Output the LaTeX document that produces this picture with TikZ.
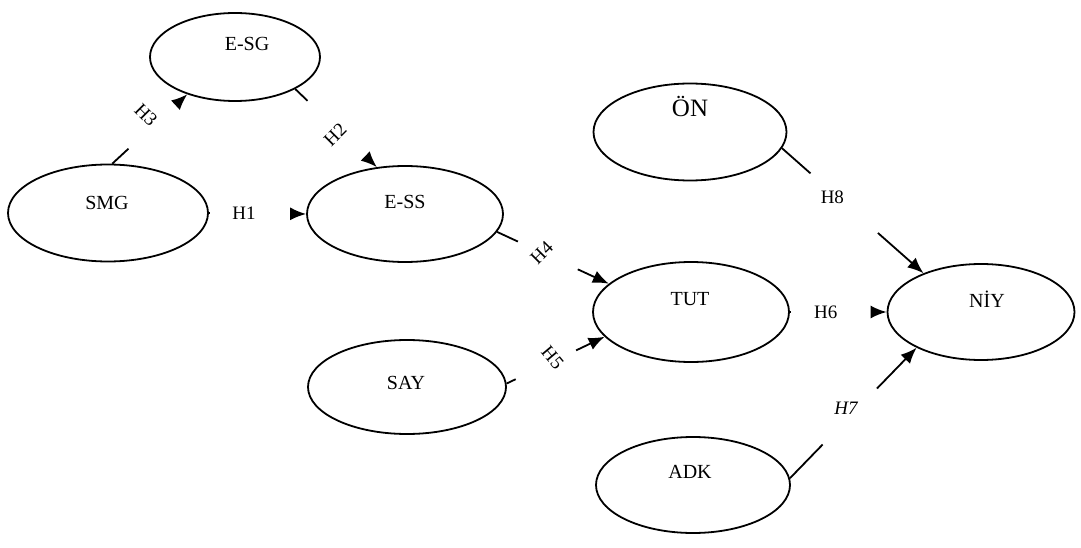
\documentclass[tikz,border=0pt]{standalone}
\usepackage{fontspec}
\setmainfont{Liberation Serif}
\usetikzlibrary{shapes.geometric,arrows.meta}

\tikzset{
  var/.style={draw, ellipse, line width=1.8pt, minimum width=196pt, minimum height=96pt, inner sep=0pt},
  vtxt/.style={font=\fontsize{20}{24}\selectfont, inner sep=0pt},
  hyp/.style={font=\fontsize{19}{23}\selectfont, inner sep=0pt},
  link/.style={line width=1.8pt, -{Latex[length=16pt,width=13pt]}}
}

\begin{document}
\begin{tikzpicture}[x=1pt, y=-1pt]
    \useasboundingbox (0,0) rectangle (1081,548);

    % Define nodes
    \node[var, minimum width=170pt, minimum height=88pt]		(esg)		at (235,57) {};
    \node[var, minimum width=200pt, minimum height=97pt]		(smg)		at (108,213) {};
    \node[var]		(ess)		at (405,214) {};
    \node[var, minimum width=193pt, minimum height=97pt]		(on)		at (690,132) {};
    \node[var, minimum height=100pt]		(tut)		at (691,312) {};
    \node[var, minimum width=187pt]		(niy)		at (981,312) {};
    \node[var, minimum width=198pt, minimum height=94pt]		(say)		at (407,387) {};
    \node[var, minimum width=194pt]		(adk)		at (693,485) {};

    % Node texts
    \node[vtxt, xshift=12pt, yshift=13pt]		(esgt)		at (esg) {E-SG};
    \node[vtxt, xshift=-1pt, yshift=10pt]		(smgt)		at (smg) {SMG};
    \node[vtxt, yshift=12pt]		(esst)		at (ess) {E-SS};
    \node[vtxt, yshift=26pt, font=\fontsize{25}{30}\selectfont]		(ont)		at (on) {ÖN};
    \node[vtxt, xshift=-1pt, yshift=13pt]		(tutt)		at (tut) {TUT};
    \node[vtxt, xshift=6pt, yshift=13pt]		(niyt)		at (niy) {NİY};
    \node[vtxt, xshift=-1pt, yshift=4pt]		(sayt)		at (say) {SAY};
    \node[vtxt, xshift=-3pt, yshift=13pt]		(adkt)		at (adk) {ADK};

    % Connect nodes (broken lines)
    \draw[link, dash pattern=on 1pt off 300pt] (smg.east) -- node[hyp, pos=0.36] {H1} (ess.west);
    \draw[link, dash pattern=on 17pt off 300pt] (esg.-28) -- node[hyp, pos=0.44, xshift=4pt, yshift=-11pt, rotate=45] {H2} (ess.121);
    \draw[link, dash pattern=on 22pt off 300pt] (smg.85) -- node[hyp, pos=0.57, xshift=-9pt, yshift=9pt, rotate=-45] {H3} (esg.218);
    \draw[link, dash pattern=on 23pt off 66pt on 300pt] (ess.-11) -- node[hyp, pos=0.4, rotate=45] {H4} (tut.161);
    \draw[link, dash pattern=on 10pt off 67pt on 300pt] (say.2) -- node[hyp, pos=0.49, xshift=-2pt, yshift=3pt, rotate=-50] {H5} (tut.196);
    \draw[link, dash pattern=on 1pt off 300pt] (tut.east) -- node[hyp, pos=0.37] {H6} (niy.west);
    \draw[link, dash pattern=on 47pt off 78pt on 300pt] (adk.4) -- node[hyp, pos=0.49, xshift=-6pt, yshift=6pt] {\itshape H7} (niy.209);
    \draw[link, dash pattern=on 38pt off 90pt on 300pt] (on.-10) -- node[hyp, pos=0.37, xshift=-2pt, yshift=-3pt] {H8} (niy.146);
\end{tikzpicture}
\end{document}
